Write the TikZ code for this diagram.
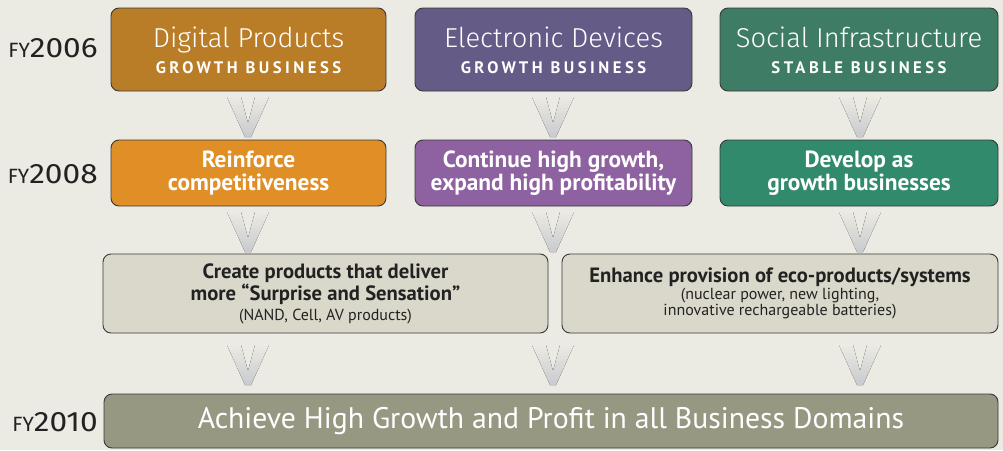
\documentclass[tikz,border=0pt]{standalone}
\usepackage{fontspec}
\setmainfont{PT Sans}
\newfontfamily\lightfont{Fira Sans Light}
\newfontfamily\fira{Fira Sans}
\newfontfamily\spaced[LetterSpace=21]{PT Sans}
\usetikzlibrary{calc}
\definecolor{bg}{HTML}{EBEAE3}
\definecolor{dpA}{HTML}{B97D27}
\definecolor{dpB}{HTML}{E08E26}
\definecolor{edA}{HTML}{655B87}
\definecolor{edB}{HTML}{8E61A0}
\definecolor{siA}{HTML}{3F7C66}
\definecolor{siB}{HTML}{318A6C}
\definecolor{pale}{HTML}{DAD8CA}
\definecolor{olive}{HTML}{979882}
\definecolor{edge}{HTML}{3A3A3A}
\definecolor{chev}{HTML}{C8CACE}
\definecolor{ink}{HTML}{222222}
\tikzset{
  box/.style={draw=edge, line width=0.7pt, rounded corners=6pt, inner sep=0pt, align=center, text=white},
  toprow/.style={box, minimum height=83*0.75pt},
  midrow/.style={box, minimum height=66*0.75pt, font=\bfseries\fontsize{17.5}{17.5}\selectfont},
  lowrow/.style={box, fill=pale, text=ink, minimum height=79*0.75pt},
  ttlnode/.style={anchor=base, inner sep=0pt, text=white, font=\lightfont\fontsize{20.5}{22}\selectfont},
  subnode/.style={anchor=base, inner sep=0pt, text=white, font=\spaced\bfseries\fontsize{12.5}{14}\selectfont},
  fy/.style={anchor=base east, inner sep=0pt, text=ink},
  pics/chevron/.style={code={
    \fill[top color=bg, bottom color=chev]
      (-21,-20) -- (-7,-20) -- (0,6) -- (7,-20) -- (21,-20) -- (3,20) -- (-3,20) -- cycle;
  }}
}
\newcommand{\fyl}[1]{\fira{\fontsize{15.5}{16}\selectfont FY}\scalebox{1.13}[1]{\fira\fontsize{21}{22}\selectfont #1}}
\newcommand{\hd}{\bfseries\fontsize{15.5}{16.5}\selectfont}
\newcommand{\sm}{\mdseries\fontsize{12}{12.5}\selectfont}
\begin{document}
\begin{tikzpicture}[x=0.75pt,y=-0.75pt]
\fill[bg] (0,0) rectangle (1003,450);
\useasboundingbox (0,0) rectangle (1003,450);

% row 1
\node[toprow, fill=dpA, minimum width=275*0.75pt] (dp) at (248.5,49.5) {};
\node[toprow, fill=edA, minimum width=277*0.75pt] (ed) at (553.5,49.5) {};
\node[toprow, fill=siA, minimum width=278*0.75pt] (si) at (859,49.5) {};
\node[ttlnode] (dpt) at ($(dp.center)+(0,-2.5)$) {Digital Products};
\node[subnode] (dps) at ($(dp.center)+(0,23.5)$) {GROWTH BUSINESS};
\node[ttlnode] (edt) at ($(ed.center)+(0,-2.5)$) {Electronic Devices};
\node[subnode] (eds) at ($(ed.center)+(0,23.5)$) {GROWTH BUSINESS};
\node[ttlnode] (sit) at ($(si.center)+(0,-2.5)$) {Social Infrastructure};
\node[subnode] (sis) at ($(si.center)+(0,23.5)$) {STABLE BUSINESS};

% row 2
\node[midrow, fill=dpB, minimum width=275*0.75pt] (rc) at (248.5,173)
  {Reinforce\\competitiveness};
\node[midrow, fill=edB, minimum width=277*0.75pt] (ch) at (553.5,173)
  {Continue high growth,\\expand high profitability};
\node[midrow, fill=siB, minimum width=278*0.75pt] (dg) at (859,173)
  {Develop as\\growth businesses};

% row 3
\node[lowrow, minimum width=445*0.75pt] (cp) at (325.5,293.5)
  {\hd Create products that deliver\\\hd more \textquotedblleft Surprise and Sensation\textquotedblright\\[3pt]\sm (NAND, Cell, AV products)};
\node[lowrow, minimum width=436*0.75pt] (ep) at (780,293.5)
  {\hd Enhance provision of eco-products/systems\\[1pt]\sm (nuclear power, new lighting,\\\sm innovative rechargeable batteries)};

% row 4
\node[box, fill=olive, minimum width=894*0.75pt, minimum height=54*0.75pt,
      font=\fontsize{22.3}{24}\selectfont] (ah) at (551,421)
  {Achieve High Growth and Profit in all Business Domains};

% year labels
\node[fy] (fy06) at (98,57) {\fyl{2006}};
\node[fy] (fy08) at (98,183) {\fyl{2008}};
\node[fy] (fy10) at (98,431) {\fyl{2010}};

% chevrons
\pic at (248,117) {chevron};
\pic at (553,117) {chevron};
\pic at (860,117) {chevron};
\pic at (248,232) {chevron};
\pic at (553,232) {chevron};
\pic at (860,232) {chevron};
\pic at (248,365) {chevron};
\pic at (553,365) {chevron};
\pic at (860,365) {chevron};
\end{tikzpicture}
\end{document}
